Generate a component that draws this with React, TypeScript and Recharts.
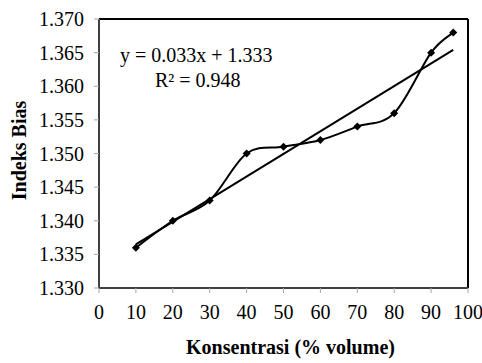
import { useEffect, useState } from "react";
import { LineChart, Line, XAxis, YAxis, ReferenceLine } from "recharts";

const concentration = [10, 20, 30, 40, 50, 60, 70, 80, 90, 96];
const refractiveIndex = [1.336, 1.34, 1.343, 1.35, 1.351, 1.352, 1.354, 1.356, 1.365, 1.368];
const trendX = [10, 96];
const trendY = [1.3365, 1.3654];
const xTicks = [0, 10, 20, 30, 40, 50, 60, 70, 80, 90, 100];
const yTicks = [1.33, 1.335, 1.34, 1.345, 1.35, 1.355, 1.36, 1.365, 1.37];

const points = concentration.map((x, i) => ({ x, y: refractiveIndex[i] }));
const trend = trendX.map((x, i) => ({ x, y: trendY[i] }));

const serif = "'Liberation Serif', serif";
const tickStyle = { fontSize: 20, fill: "#000", fontFamily: serif };

// excel style smoothed line (catmull-rom through every point)
const smooth = (context: any) => {
  let pts: number[][] = [];
  return {
    areaStart() {},
    areaEnd() {},
    lineStart() {
      pts = [];
    },
    point(x: number, y: number) {
      pts.push([+x, +y]);
    },
    lineEnd() {
      if (!pts.length) return;
      context.moveTo(pts[0][0], pts[0][1]);
      for (let i = 0; i < pts.length - 1; i++) {
        const p0 = pts[Math.max(i - 1, 0)];
        const p1 = pts[i];
        const p2 = pts[i + 1];
        const p3 = pts[Math.min(i + 2, pts.length - 1)];
        context.bezierCurveTo(
          p1[0] + (p2[0] - p0[0]) / 6,
          p1[1] + (p2[1] - p0[1]) / 6,
          p2[0] - (p3[0] - p1[0]) / 6,
          p2[1] - (p3[1] - p1[1]) / 6,
          p2[0],
          p2[1]
        );
      }
    },
  };
};

const Diamond = (props: any) => {
  const { cx, cy } = props;
  const r = 4;
  return <path d={`M${cx},${cy - r}L${cx + r},${cy}L${cx},${cy + r}L${cx - r},${cy}Z`} fill="#000" />;
};

const YLabel = ({ viewBox }: any) => {
  const cx = 19;
  const cy = viewBox.y + viewBox.height / 2 - 3;
  return (
    <text x={cx} y={cy} transform={`rotate(-90 ${cx} ${cy})`} textAnchor="middle" dominantBaseline="central"
      fontFamily={serif} fontSize={20} fontWeight="bold" fill="#000">
      Indeks Bias
    </text>
  );
};

const XLabel = ({ viewBox }: any) => (
  <text x={viewBox.x + viewBox.width / 2 + 7} y={354} textAnchor="middle"
    fontFamily={serif} fontSize={20} fontWeight="bold" fill="#000">
    Konsentrasi (% volume)
  </text>
);

// the first font lookups on a fresh page come back as sans, so warm them up before the chart mounts
const WarmUp = () => (
  <div style={{ position: "absolute", left: 0, top: 0, opacity: 0, pointerEvents: "none" }}>
    <div style={{ fontFamily: "Times New Roman", fontSize: 20 }}>1.370</div>
    <div style={{ fontFamily: "Times New Roman", fontSize: 20, fontWeight: "bold" }}>Indeks</div>
    <div style={{ fontFamily: "serif", fontSize: 20 }}>1.370</div>
    <svg width={10} height={10}>
      <text fontFamily="Times New Roman" fontSize={20}>1</text>
      <text fontFamily="Times New Roman" fontSize={20} fontWeight="bold">1</text>
    </svg>
  </div>
);

export default function App() {
  const [ready, setReady] = useState(false);
  useEffect(() => {
    document.body.style.margin = "0";
    const t = setTimeout(() => setReady(true), 40);
    return () => clearTimeout(t);
  }, []);

  return (
    <div style={{ position: "relative", width: 482, height: 363, background: "#fff", fontFamily: serif }}>
      <WarmUp />
      {ready && (
        <>
          <LineChart width={482} height={363} data={points} margin={{ top: 19, right: 14, left: 9, bottom: 15 }}>
            <XAxis
              dataKey="x"
              type="number"
              domain={[0, 100]}
              ticks={xTicks}
              interval={0}
              tick={tickStyle}
              tickSize={5}
              tickMargin={12}
              height={60}
              axisLine={{ stroke: "#404040", strokeWidth: 2 }}
              tickLine={{ stroke: "#a6a6a6" }}
              label={<XLabel />}
            />
            <YAxis
              dataKey="y"
              type="number"
              domain={[1.33, 1.37]}
              ticks={yTicks}
              interval={0}
              tickFormatter={(v: number) => v.toFixed(3)}
              tick={tickStyle}
              tickSize={5}
              tickMargin={10}
              width={90}
              axisLine={{ stroke: "#404040", strokeWidth: 2 }}
              tickLine={{ stroke: "#a6a6a6" }}
              label={<YLabel />}
            />
            <ReferenceLine y={1.37} stroke="#000" strokeWidth={2} />
            <ReferenceLine x={100} stroke="#000" strokeWidth={2} />
            <Line
              data={trend}
              dataKey="y"
              type="linear"
              stroke="#000"
              strokeWidth={2}
              dot={false}
              activeDot={false}
              isAnimationActive={false}
            />
            <Line
              dataKey="y"
              type={smooth as any}
              stroke="#000"
              strokeWidth={2}
              dot={<Diamond />}
              activeDot={false}
              isAnimationActive={false}
            />
          </LineChart>
          <div style={{ position: "absolute", left: 120, top: 42, fontSize: 20, lineHeight: "26px", whiteSpace: "pre" }}>
            {"y = 0.033x + 1.333"}
          </div>
          <div style={{ position: "absolute", left: 155, top: 67, fontSize: 20, lineHeight: "26px", whiteSpace: "pre" }}>
            {"R\u00b2 = 0.948"}
          </div>
        </>
      )}
    </div>
  );
}
